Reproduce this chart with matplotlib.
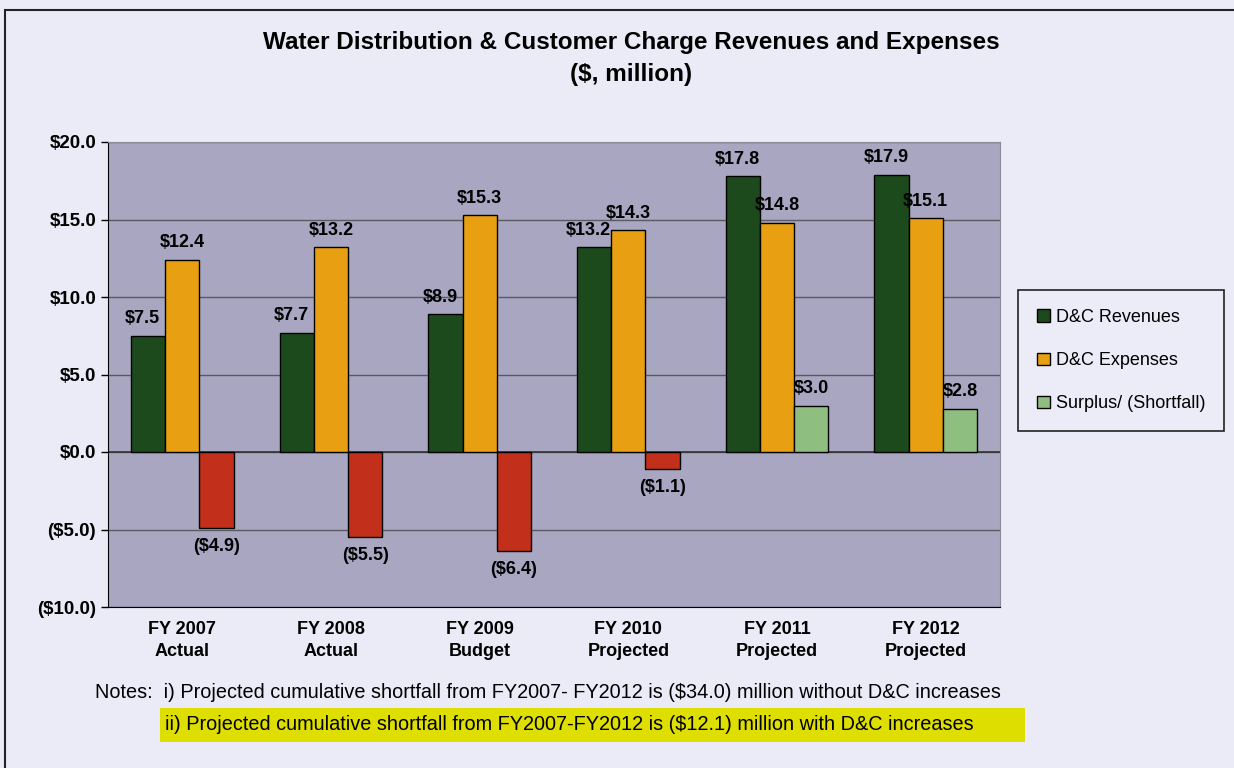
import matplotlib
matplotlib.use("Agg")
import matplotlib.pyplot as plt
from matplotlib.patches import Rectangle
from matplotlib import font_manager
import numpy as np

categories = ["FY 2007\nActual", "FY 2008\nActual", "FY 2009\nBudget",
              "FY 2010\nProjected", "FY 2011\nProjected", "FY 2012\nProjected"]
revenues = [7.5, 7.7, 8.9, 13.2, 17.8, 17.9]
expenses = [12.4, 13.2, 15.3, 14.3, 14.8, 15.1]
surplus = [-4.9, -5.5, -6.4, -1.1, 3.0, 2.8]
yticks = [-10, -5, 0, 5, 10, 15, 20]

names = [f.name for f in font_manager.fontManager.ttflist]
narrow = "Liberation Sans Narrow" if "Liberation Sans Narrow" in names else "Liberation Sans"
plt.rcParams["font.family"] = ["Liberation Sans", "DejaVu Sans"]

def money(v):
    return f"${v:.1f}" if v >= 0 else f"(${-v:.1f})"

fig = plt.figure(figsize=(12.34, 7.68), dpi=100)
fig.patch.set_facecolor("#ebebf7")

# outer frame
fig.patches.append(Rectangle((5 / 1234, -0.05), 1.1, 1 - 10 / 768 + 0.05,
                             transform=fig.transFigure, fill=False,
                             edgecolor="#222222", linewidth=1.5))

ax = fig.add_axes([108 / 1234, 1 - 607 / 768, (1000 - 108) / 1234, (607 - 142) / 768])
ax.set_facecolor("#a9a6c2")

x = np.arange(len(categories))
w = 0.23
c_rev = "#1c4a1c"
c_exp = "#e8a012"
c_neg = "#c2301c"
c_pos = "#8fbf80"

ax.bar(x - w, revenues, w, color=c_rev, edgecolor="black", linewidth=1, zorder=3)
ax.bar(x, expenses, w, color=c_exp, edgecolor="black", linewidth=1, zorder=3)
ax.bar(x + w, surplus, w, color=[c_neg if s < 0 else c_pos for s in surplus],
       edgecolor="black", linewidth=1, zorder=3)

lab = dict(fontsize=13, fontweight="bold", ha="center", zorder=4)
for i in range(len(categories)):
    ax.annotate(money(revenues[i]), (x[i] - w, revenues[i]), xytext=(-4, 6),
                textcoords="offset points", va="bottom", **lab)
    ax.annotate(money(expenses[i]), (x[i], expenses[i]), xytext=(0, 6),
                textcoords="offset points", va="bottom", **lab)
    if surplus[i] < 0:
        ax.annotate(money(surplus[i]), (x[i] + w, surplus[i]), xytext=(0, -7),
                    textcoords="offset points", va="top", **lab)
    else:
        ax.annotate(money(surplus[i]), (x[i] + w, surplus[i]), xytext=(0, 6),
                    textcoords="offset points", va="bottom", **lab)

ax.set_xlim(-0.5, len(categories) - 0.5)
ax.set_ylim(-10, 20)
ax.set_yticks(yticks)
ax.set_yticklabels([money(v) for v in yticks], fontsize=13.5, fontweight="bold")
ax.set_xticks(x)
ax.set_xticklabels(categories, fontsize=13, fontweight="bold", linespacing=1.4)
ax.tick_params(axis="x", length=0, pad=10)
ax.tick_params(axis="y", length=5, direction="out", width=1)
ax.grid(axis="y", color="#5a5a60", linewidth=1, zorder=1)
ax.axhline(0, color="#333333", linewidth=1.2, zorder=2)
for s in ["top", "right"]:
    ax.spines[s].set_color("#8a8a9a")
ax.spines["left"].set_color("black")
ax.spines["bottom"].set_color("black")

handles = [Rectangle((0, 0), 1, 1, facecolor=c, edgecolor="black") for c in (c_rev, c_exp, c_pos)]
leg = fig.legend(handles, ["D&C Revenues", "D&C Expenses", "Surplus/ (Shortfall)"],
                 loc="upper left", bbox_to_anchor=(1018 / 1234, 1 - 290 / 768),
                 borderaxespad=0, fontsize=13, handlelength=0.7, handleheight=0.7,
                 handletextpad=0.35, labelspacing=1.45, borderpad=1.05,
                 fancybox=False, framealpha=1)
leg.get_frame().set_facecolor("#ececf8")
leg.get_frame().set_edgecolor("#222222")
leg.get_frame().set_linewidth(1.2)

fig.text(0.5 * (258 + 1005) / 1234, 1 - 43 / 768,
         "Water Distribution & Customer Charge Revenues and Expenses",
         family=[narrow, "DejaVu Sans"], fontsize=17.5, fontweight="bold", ha="center", va="center")
fig.text(0.5 * (258 + 1005) / 1234, 1 - 75 / 768, "($, million)",
         family=[narrow, "DejaVu Sans"], fontsize=17.5, fontweight="bold", ha="center", va="center")

fig.text(95 / 1234, 1 - 692 / 768,
         "Notes:  i) Projected cumulative shortfall from FY2007- FY2012 is ($34.0) million without D&C increases",
         family=[narrow, "DejaVu Sans"], fontsize=14.3, ha="left", va="center")
fig.patches.append(Rectangle((160 / 1234, 1 - 742 / 768), (1025 - 160) / 1234, 34 / 768,
                             transform=fig.transFigure, facecolor="#dede00", edgecolor="none"))
fig.text(165 / 1234, 1 - 725 / 768,
         "ii) Projected cumulative shortfall from FY2007-FY2012 is ($12.1) million with D&C increases",
         family=[narrow, "DejaVu Sans"], fontsize=14.3, ha="left", va="center")

fig.savefig("out.png", dpi=100, facecolor=fig.get_facecolor())
